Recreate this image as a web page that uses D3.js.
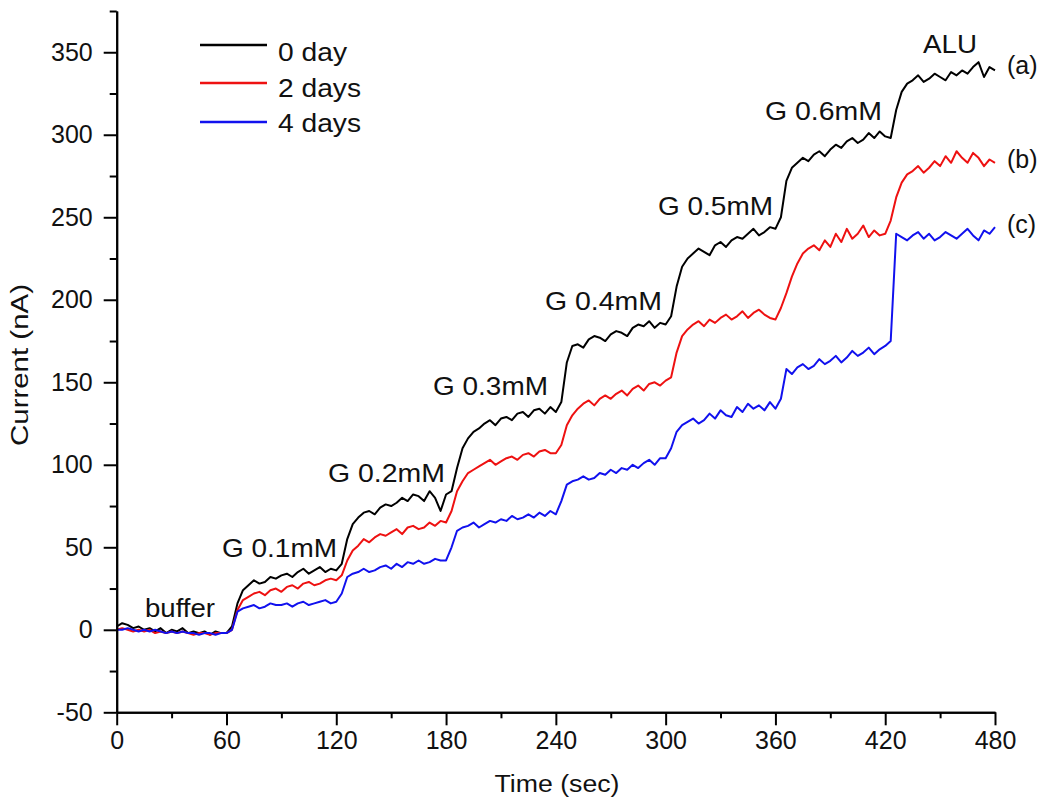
<!DOCTYPE html>
<html>
<head>
<meta charset="utf-8">
<script src="https://cdn.jsdelivr.net/npm/d3@7"></script>
<style>
  html, body { margin: 0; padding: 0; background: #fff; }
  svg { display: block; font-family: "Liberation Sans", Arial, sans-serif; }
</style>
</head>
<body>
<svg id="chart" width="1050" height="808"></svg>
<script>
// ---------------- data ----------------
const sampleStep = 3; // seconds between samples
const seriesNames = ["0 day", "2 days", "4 days"];
const seriesTags = ["(a)", "(b)", "(c)"];
const day0 = [
  2,4,3,1,2,0,1,-1,1,-2,0,-1,1,-2,-1,-2,-1,-3,-1,-2,-2,
  2,16,24,27,30,28,29,32,31,33,34,32,35,37,34,36,38,35,37,36,
  40,55,64,68,71,72,70,74,76,75,77,80,78,82,81,78,84,80,72,82,
  84,98,110,116,120,122,125,127,124,128,129,127,131,132,129,133,134,131,135,132,
  138,162,172,173,171,176,178,177,175,179,181,180,178,183,185,184,187,183,186,185,
  190,208,220,225,228,231,229,227,233,235,232,236,238,237,240,243,239,241,244,243,
  250,272,280,283,286,284,288,290,287,291,294,292,296,298,295,297,301,298,302,299,
  298,315,326,331,333,336,332,334,337,335,333,338,336,339,337,341,344,335,341,339
];
const day2 = [
  0,1,0,-1,0,-1,0,-2,-1,-2,-1,-2,-1,-2,-3,-2,-2,-3,-2,-2,-2,
  0,12,18,20,22,23,21,24,25,23,26,27,25,28,29,27,28,30,31,30,
  33,42,48,51,55,53,56,58,57,59,61,58,62,63,61,62,65,63,66,65,
  72,84,90,95,97,99,101,103,100,102,104,105,103,106,107,105,108,109,107,107,
  112,124,130,134,137,139,136,140,142,140,143,145,142,146,148,145,149,150,148,151,
  153,168,178,182,185,187,184,188,186,189,191,188,190,193,189,192,194,191,189,188,
  195,204,214,222,228,231,233,230,236,232,240,235,243,237,240,245,238,242,239,240,
  248,262,271,276,278,281,277,280,284,281,287,283,290,286,283,289,286,281,285,283
];
const day4 = [
  0,0,1,0,-1,0,-1,0,-1,-2,-1,-2,-1,-2,-2,-3,-2,-2,-3,-2,-2,
  0,11,13,14,15,13,14,16,15,15,16,14,16,17,15,16,17,18,16,17,
  22,32,34,35,37,35,36,38,39,37,40,38,41,40,42,40,41,43,42,42,
  50,60,62,63,65,62,64,66,65,67,66,69,67,68,70,68,71,69,72,70,
  78,88,90,91,93,91,92,95,94,97,95,98,97,100,98,101,103,100,104,104,
  110,120,124,126,128,125,127,131,128,133,130,129,135,132,137,134,136,133,138,134,
  140,158,155,159,161,158,160,164,161,163,166,162,165,169,166,168,171,167,170,172,
  175,240,238,236,239,241,237,240,236,238,241,239,237,240,243,239,236,242,240,244
];
const xTickValues = [0, 60, 120, 180, 240, 300, 360, 420, 480];
const xMinorTicks = [30, 90, 150, 210, 270, 330, 390, 450];
const yTickValues = [-50, 0, 50, 100, 150, 200, 250, 300, 350];
const yMinorTicks = [-25, 25, 75, 125, 175, 225, 275, 325, 375];
const annotationTexts = ["buffer", "G 0.1mM", "G 0.2mM", "G 0.3mM", "G 0.4mM", "G 0.5mM", "G 0.6mM", "ALU"];
const xTitle = "Time (sec)";
const yTitle = "Current (nA)";

// ---------------- drawing ----------------
const svg = d3.select("#chart");
const colors = ["#000000", "#ee1111", "#1111ee"];
const x = d3.scaleLinear().domain([0, 480]).range([116.7, 995]);
const y = d3.scaleLinear().domain([-50, 375]).range([712.3, 11]);

const series = [day0, day2, day4].map((vals, k) => ({
  name: seriesNames[k], color: colors[k],
  points: vals.map((v, i) => ({ t: i * sampleStep, v }))
}));

const line = d3.line().x(d => x(d.t)).y(d => y(d.v));
svg.append("g").selectAll("path").data(series).join("path")
  .attr("d", d => line(d.points))
  .attr("fill", "none")
  .attr("stroke", d => d.color)
  .attr("stroke-width", 2)
  .attr("stroke-linejoin", "round");

// axes
const fmt = d => String(d);
function styleAxis(g) {
  g.selectAll(".domain").attr("stroke", "#000").attr("stroke-width", 2);
  g.selectAll(".tick line").attr("stroke", "#000").attr("stroke-width", 2);
  g.selectAll(".tick text").attr("fill", "#111").style("font-size", "25px")
    .style("font-family", '"Liberation Sans", Arial, sans-serif');
}
const xMinor = svg.append("g").attr("transform", `translate(0,${y(-50)})`)
  .call(d3.axisBottom(x).tickValues(xMinorTicks).tickSize(6).tickSizeOuter(0).tickFormat(""));
styleAxis(xMinor);
const xAxis = svg.append("g").attr("transform", `translate(0,${y(-50)})`)
  .call(d3.axisBottom(x).tickValues(xTickValues).tickSize(13).tickSizeOuter(0).tickPadding(6).tickFormat(fmt));
styleAxis(xAxis);

const yMinor = svg.append("g").attr("transform", `translate(${x(0)},0)`)
  .call(d3.axisLeft(y).tickValues(yMinorTicks).tickSize(7).tickSizeOuter(0).tickFormat(""));
styleAxis(yMinor);
const yAxis = svg.append("g").attr("transform", `translate(${x(0)},0)`)
  .call(d3.axisLeft(y).tickValues(yTickValues).tickSize(13).tickSizeOuter(0).tickPadding(11).tickFormat(fmt));
styleAxis(yAxis);

// axis titles
svg.append("text").attr("x", 557).attr("y", 792).attr("text-anchor", "middle")
  .style("font-size", "23px").attr("fill", "#111")
  .attr("textLength", 125).attr("lengthAdjust", "spacingAndGlyphs").text(xTitle);
svg.append("text").attr("transform", "translate(28,365) rotate(-90)").attr("text-anchor", "middle")
  .style("font-size", "23px").attr("fill", "#111")
  .attr("textLength", 162).attr("lengthAdjust", "spacingAndGlyphs").text(yTitle);

// legend
const legendRows = [{ ly: 45, ty: 61, w: 69 }, { ly: 83, ty: 97, w: 83 }, { ly: 122, ty: 132, w: 83 }];
series.forEach((s, k) => {
  const r = legendRows[k];
  svg.append("line").attr("x1", 200).attr("x2", 267).attr("y1", r.ly).attr("y2", r.ly)
    .attr("stroke", s.color).attr("stroke-width", 2.5);
  svg.append("text").attr("x", 278).attr("y", r.ty).style("font-size", "25px").attr("fill", "#111")
    .attr("textLength", r.w).attr("lengthAdjust", "spacingAndGlyphs").text(s.name);
});

// annotations
const annLayout = [
  { x: 145, y: 617, w: 70 }, { x: 222, y: 557, w: 115 }, { x: 328, y: 482, w: 117 },
  { x: 433, y: 395, w: 115 }, { x: 545, y: 310, w: 117 }, { x: 658, y: 215, w: 115 },
  { x: 765, y: 120, w: 117 }, { x: 923, y: 53, w: 54 }
];
annotationTexts.forEach((t, i) => {
  const p = annLayout[i];
  svg.append("text").attr("x", p.x).attr("y", p.y).style("font-size", "26px").attr("fill", "#111")
    .attr("textLength", p.w).attr("lengthAdjust", "spacingAndGlyphs").text(t);
});
const tagLayout = [{ x: 1007, y: 74 }, { x: 1007, y: 168 }, { x: 1007, y: 233 }];
seriesTags.forEach((t, i) => {
  svg.append("text").attr("x", tagLayout[i].x).attr("y", tagLayout[i].y)
    .style("font-size", "25px").attr("fill", "#111").text(t);
});
</script>
</body>
</html>
